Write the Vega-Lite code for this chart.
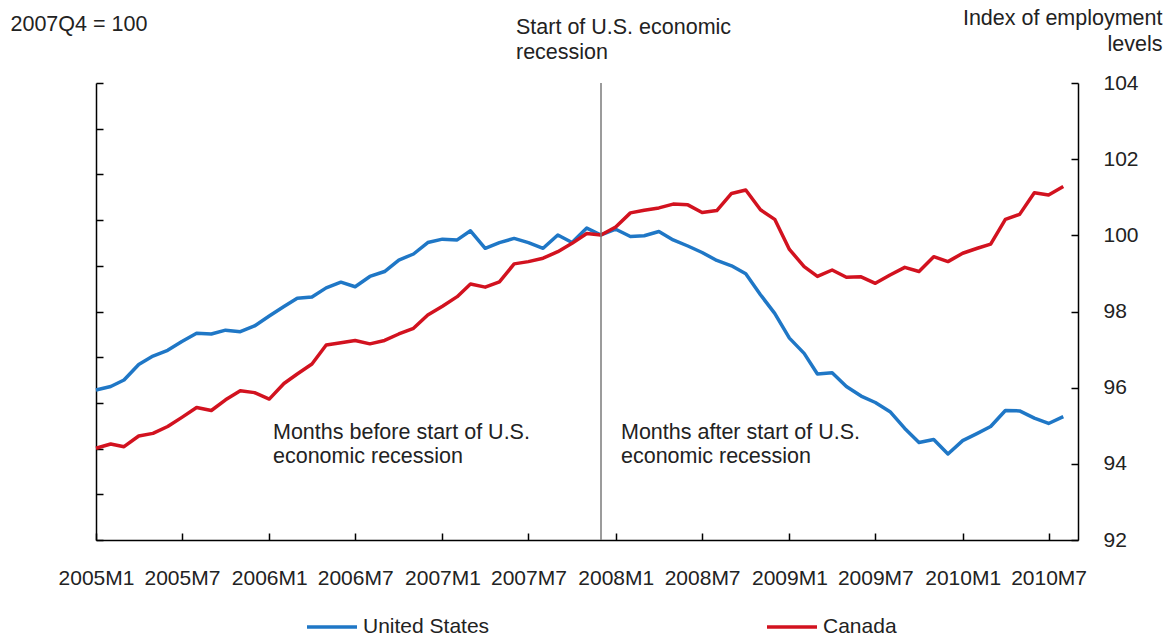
{
  "$schema": "https://vega.github.io/schema/vega-lite/v6.json",
  "width": 982,
  "height": 457,
  "autosize": {"type": "none"},
  "padding": {"left": 96, "top": 83, "right": 90, "bottom": 98},
  "background": "white",
  "config": {
    "font": "Liberation Sans",
    "view": {"stroke": null},
    "axis": {
      "grid": false,
      "domainColor": "#000000",
      "domainWidth": 1.5,
      "tickColor": "#000000",
      "tickWidth": 1.5,
      "labelColor": "#222222",
      "titleColor": "#222222",
      "labelFont": "Liberation Sans",
      "titleFont": "Liberation Sans",
      "labelFontSize": 21,
      "titleFontSize": 21.5,
      "titleFontWeight": "normal"
    },
    "text": {"font": "Liberation Sans"}
  },
  "datasets": {
    "events": [
      {"month": "2007-12-01", "event": "Start of U.S. economic recession"}
    ],
    "employment": [
      {"month": "2005-01-01", "country": "United States", "index": 95.94},
      {"month": "2005-02-01", "country": "United States", "index": 96.03},
      {"month": "2005-03-01", "country": "United States", "index": 96.20},
      {"month": "2005-04-01", "country": "United States", "index": 96.61},
      {"month": "2005-05-01", "country": "United States", "index": 96.83},
      {"month": "2005-06-01", "country": "United States", "index": 96.98},
      {"month": "2005-07-01", "country": "United States", "index": 97.21},
      {"month": "2005-08-01", "country": "United States", "index": 97.43},
      {"month": "2005-09-01", "country": "United States", "index": 97.41},
      {"month": "2005-10-01", "country": "United States", "index": 97.51},
      {"month": "2005-11-01", "country": "United States", "index": 97.47},
      {"month": "2005-12-01", "country": "United States", "index": 97.62},
      {"month": "2006-01-01", "country": "United States", "index": 97.88},
      {"month": "2006-02-01", "country": "United States", "index": 98.13},
      {"month": "2006-03-01", "country": "United States", "index": 98.35},
      {"month": "2006-04-01", "country": "United States", "index": 98.38},
      {"month": "2006-05-01", "country": "United States", "index": 98.62},
      {"month": "2006-06-01", "country": "United States", "index": 98.77},
      {"month": "2006-07-01", "country": "United States", "index": 98.65},
      {"month": "2006-08-01", "country": "United States", "index": 98.92},
      {"month": "2006-09-01", "country": "United States", "index": 99.05},
      {"month": "2006-10-01", "country": "United States", "index": 99.35},
      {"month": "2006-11-01", "country": "United States", "index": 99.51},
      {"month": "2006-12-01", "country": "United States", "index": 99.81},
      {"month": "2007-01-01", "country": "United States", "index": 99.90},
      {"month": "2007-02-01", "country": "United States", "index": 99.88},
      {"month": "2007-03-01", "country": "United States", "index": 100.12},
      {"month": "2007-04-01", "country": "United States", "index": 99.66},
      {"month": "2007-05-01", "country": "United States", "index": 99.81},
      {"month": "2007-06-01", "country": "United States", "index": 99.92},
      {"month": "2007-07-01", "country": "United States", "index": 99.81},
      {"month": "2007-08-01", "country": "United States", "index": 99.66},
      {"month": "2007-09-01", "country": "United States", "index": 100.01},
      {"month": "2007-10-01", "country": "United States", "index": 99.81},
      {"month": "2007-11-01", "country": "United States", "index": 100.19},
      {"month": "2007-12-01", "country": "United States", "index": 100.01},
      {"month": "2008-01-01", "country": "United States", "index": 100.16},
      {"month": "2008-02-01", "country": "United States", "index": 99.97},
      {"month": "2008-03-01", "country": "United States", "index": 99.99},
      {"month": "2008-04-01", "country": "United States", "index": 100.10},
      {"month": "2008-05-01", "country": "United States", "index": 99.88},
      {"month": "2008-06-01", "country": "United States", "index": 99.72},
      {"month": "2008-07-01", "country": "United States", "index": 99.55},
      {"month": "2008-08-01", "country": "United States", "index": 99.34},
      {"month": "2008-09-01", "country": "United States", "index": 99.20},
      {"month": "2008-10-01", "country": "United States", "index": 98.99},
      {"month": "2008-11-01", "country": "United States", "index": 98.44},
      {"month": "2008-12-01", "country": "United States", "index": 97.95},
      {"month": "2009-01-01", "country": "United States", "index": 97.30},
      {"month": "2009-02-01", "country": "United States", "index": 96.90},
      {"month": "2009-03-01", "country": "United States", "index": 96.36},
      {"month": "2009-04-01", "country": "United States", "index": 96.39},
      {"month": "2009-05-01", "country": "United States", "index": 96.03},
      {"month": "2009-06-01", "country": "United States", "index": 95.78},
      {"month": "2009-07-01", "country": "United States", "index": 95.61},
      {"month": "2009-08-01", "country": "United States", "index": 95.37},
      {"month": "2009-09-01", "country": "United States", "index": 94.93},
      {"month": "2009-10-01", "country": "United States", "index": 94.56},
      {"month": "2009-11-01", "country": "United States", "index": 94.64},
      {"month": "2009-12-01", "country": "United States", "index": 94.26},
      {"month": "2010-01-01", "country": "United States", "index": 94.61},
      {"month": "2010-02-01", "country": "United States", "index": 94.80},
      {"month": "2010-03-01", "country": "United States", "index": 94.98},
      {"month": "2010-04-01", "country": "United States", "index": 95.40},
      {"month": "2010-05-01", "country": "United States", "index": 95.39},
      {"month": "2010-06-01", "country": "United States", "index": 95.20},
      {"month": "2010-07-01", "country": "United States", "index": 95.06},
      {"month": "2010-08-01", "country": "United States", "index": 95.24},
      {"month": "2005-01-01", "country": "Canada", "index": 94.41},
      {"month": "2005-02-01", "country": "Canada", "index": 94.52},
      {"month": "2005-03-01", "country": "Canada", "index": 94.45},
      {"month": "2005-04-01", "country": "Canada", "index": 94.73},
      {"month": "2005-05-01", "country": "Canada", "index": 94.80},
      {"month": "2005-06-01", "country": "Canada", "index": 94.98},
      {"month": "2005-07-01", "country": "Canada", "index": 95.22},
      {"month": "2005-08-01", "country": "Canada", "index": 95.48},
      {"month": "2005-09-01", "country": "Canada", "index": 95.40},
      {"month": "2005-10-01", "country": "Canada", "index": 95.68},
      {"month": "2005-11-01", "country": "Canada", "index": 95.92},
      {"month": "2005-12-01", "country": "Canada", "index": 95.87},
      {"month": "2006-01-01", "country": "Canada", "index": 95.70},
      {"month": "2006-02-01", "country": "Canada", "index": 96.11},
      {"month": "2006-03-01", "country": "Canada", "index": 96.36},
      {"month": "2006-04-01", "country": "Canada", "index": 96.62},
      {"month": "2006-05-01", "country": "Canada", "index": 97.12},
      {"month": "2006-06-01", "country": "Canada", "index": 97.18},
      {"month": "2006-07-01", "country": "Canada", "index": 97.24},
      {"month": "2006-08-01", "country": "Canada", "index": 97.15},
      {"month": "2006-09-01", "country": "Canada", "index": 97.24},
      {"month": "2006-10-01", "country": "Canada", "index": 97.41},
      {"month": "2006-11-01", "country": "Canada", "index": 97.56},
      {"month": "2006-12-01", "country": "Canada", "index": 97.91},
      {"month": "2007-01-01", "country": "Canada", "index": 98.14},
      {"month": "2007-02-01", "country": "Canada", "index": 98.39},
      {"month": "2007-03-01", "country": "Canada", "index": 98.72},
      {"month": "2007-04-01", "country": "Canada", "index": 98.64},
      {"month": "2007-05-01", "country": "Canada", "index": 98.78},
      {"month": "2007-06-01", "country": "Canada", "index": 99.25},
      {"month": "2007-07-01", "country": "Canada", "index": 99.31},
      {"month": "2007-08-01", "country": "Canada", "index": 99.40},
      {"month": "2007-09-01", "country": "Canada", "index": 99.57},
      {"month": "2007-10-01", "country": "Canada", "index": 99.79},
      {"month": "2007-11-01", "country": "Canada", "index": 100.05},
      {"month": "2007-12-01", "country": "Canada", "index": 100.01},
      {"month": "2008-01-01", "country": "Canada", "index": 100.22},
      {"month": "2008-02-01", "country": "Canada", "index": 100.59},
      {"month": "2008-03-01", "country": "Canada", "index": 100.66},
      {"month": "2008-04-01", "country": "Canada", "index": 100.72},
      {"month": "2008-05-01", "country": "Canada", "index": 100.82},
      {"month": "2008-06-01", "country": "Canada", "index": 100.80},
      {"month": "2008-07-01", "country": "Canada", "index": 100.60},
      {"month": "2008-08-01", "country": "Canada", "index": 100.65},
      {"month": "2008-09-01", "country": "Canada", "index": 101.10},
      {"month": "2008-10-01", "country": "Canada", "index": 101.19},
      {"month": "2008-11-01", "country": "Canada", "index": 100.67},
      {"month": "2008-12-01", "country": "Canada", "index": 100.42},
      {"month": "2009-01-01", "country": "Canada", "index": 99.63},
      {"month": "2009-02-01", "country": "Canada", "index": 99.18},
      {"month": "2009-03-01", "country": "Canada", "index": 98.92},
      {"month": "2009-04-01", "country": "Canada", "index": 99.09},
      {"month": "2009-05-01", "country": "Canada", "index": 98.90},
      {"month": "2009-06-01", "country": "Canada", "index": 98.91},
      {"month": "2009-07-01", "country": "Canada", "index": 98.74},
      {"month": "2009-08-01", "country": "Canada", "index": 98.96},
      {"month": "2009-09-01", "country": "Canada", "index": 99.16},
      {"month": "2009-10-01", "country": "Canada", "index": 99.05},
      {"month": "2009-11-01", "country": "Canada", "index": 99.44},
      {"month": "2009-12-01", "country": "Canada", "index": 99.31},
      {"month": "2010-01-01", "country": "Canada", "index": 99.53},
      {"month": "2010-02-01", "country": "Canada", "index": 99.66},
      {"month": "2010-03-01", "country": "Canada", "index": 99.77},
      {"month": "2010-04-01", "country": "Canada", "index": 100.42},
      {"month": "2010-05-01", "country": "Canada", "index": 100.55},
      {"month": "2010-06-01", "country": "Canada", "index": 101.12},
      {"month": "2010-07-01", "country": "Canada", "index": 101.06},
      {"month": "2010-08-01", "country": "Canada", "index": 101.28}
    ]
  },
  "layer": [
    {
      "layer": [
        {
          "data": {"name": "employment"},
          "mark": {"type": "line", "strokeWidth": 3.5, "strokeJoin": "round"},
          "encoding": {
            "x": {
              "field": "month",
              "type": "temporal",
              "scale": {
                "type": "utc",
                "domain": [1104537600000, 1283299200000]
              },
              "axis": {
                "title": null,
                "tickCount": {"interval": "month", "step": 6},
                "format": "%YM%-m",
                "labelFlush": false,
                "labelOverlap": false,
                "tickSize": -7,
                "labelPadding": 34
              }
            },
            "y": {
              "field": "index",
              "type": "quantitative",
              "scale": {"domain": [92, 104], "zero": false, "nice": false},
              "axis": {
                "orient": "right",
                "values": [92, 94, 96, 98, 100, 102, 104],
                "format": "d",
                "tickSize": -7,
                "labelPadding": 32,
                "title": ["Index of employment", "levels"],
                "titleAngle": 0,
                "titleAlign": "right",
                "titleBaseline": "top",
                "titleLineHeight": 26,
                "titleX": 84,
                "titleY": -76
              }
            },
            "color": {
              "field": "country",
              "type": "nominal",
              "scale": {"domain": ["United States", "Canada"], "range": ["#1f77c6", "#d2121f"]},
              "legend": {
                "title": null,
                "orient": "none",
                "legendX": 209,
                "legendY": 517,
                "direction": "horizontal",
                "symbolType": "stroke",
                "symbolSize": 2500,
                "symbolStrokeWidth": 3.5,
                "labelFontSize": 21,
                "labelColor": "#222222",
                "labelFont": "Liberation Sans",
                "columnPadding": 270
              }
            }
          }
        },
        {
          "data": {"name": "events"},
          "mark": {"type": "text", "align": "left", "baseline": "top", "fontSize": 21.5, "lineBreak": "\n", "lineHeight": 25, "color": "#222222", "dx": -85},
          "encoding": {
            "x": {"field": "month", "type": "temporal"},
            "y": {"datum": 105.73, "type": "quantitative"},
            "text": {"value": "Start of U.S. economic\nrecession"}
          }
        },
        {
          "data": {"name": "events"},
          "mark": {"type": "text", "align": "left", "baseline": "top", "fontSize": 21.5, "lineBreak": "\n", "lineHeight": 24, "color": "#222222", "dx": -328},
          "encoding": {
            "x": {"field": "month", "type": "temporal"},
            "y": {"datum": 95.1, "type": "quantitative"},
            "text": {"value": "Months before start of U.S.\neconomic recession"}
          }
        },
        {
          "data": {"name": "events"},
          "mark": {"type": "text", "align": "left", "baseline": "top", "fontSize": 21.5, "lineBreak": "\n", "lineHeight": 24, "color": "#222222", "dx": 20},
          "encoding": {
            "x": {"field": "month", "type": "temporal"},
            "y": {"datum": 95.1, "type": "quantitative"},
            "text": {"value": "Months after start of U.S.\neconomic recession"}
          }
        }
      ]
    },
    {
      "data": {"name": "events"},
      "mark": {"type": "rule", "color": "#7a7a7a", "strokeWidth": 1.5},
      "encoding": {
        "x": {"field": "month", "type": "temporal"},
        "y": {
          "datum": 0,
          "type": "quantitative",
          "scale": {"domain": [0, 10], "nice": false, "zero": false},
          "axis": {
            "orient": "left",
            "values": [0, 1, 2, 3, 4, 5, 6, 7, 8, 9, 10],
            "labels": false,
            "tickSize": -7,
            "title": "2007Q4 = 100",
            "titleAngle": 0,
            "titleAlign": "left",
            "titleBaseline": "top",
            "titleX": -86,
            "titleY": -70
          }
        },
        "y2": {"datum": 10}
      }
    }
  ],
  "resolve": {"scale": {"y": "independent"}}
}
